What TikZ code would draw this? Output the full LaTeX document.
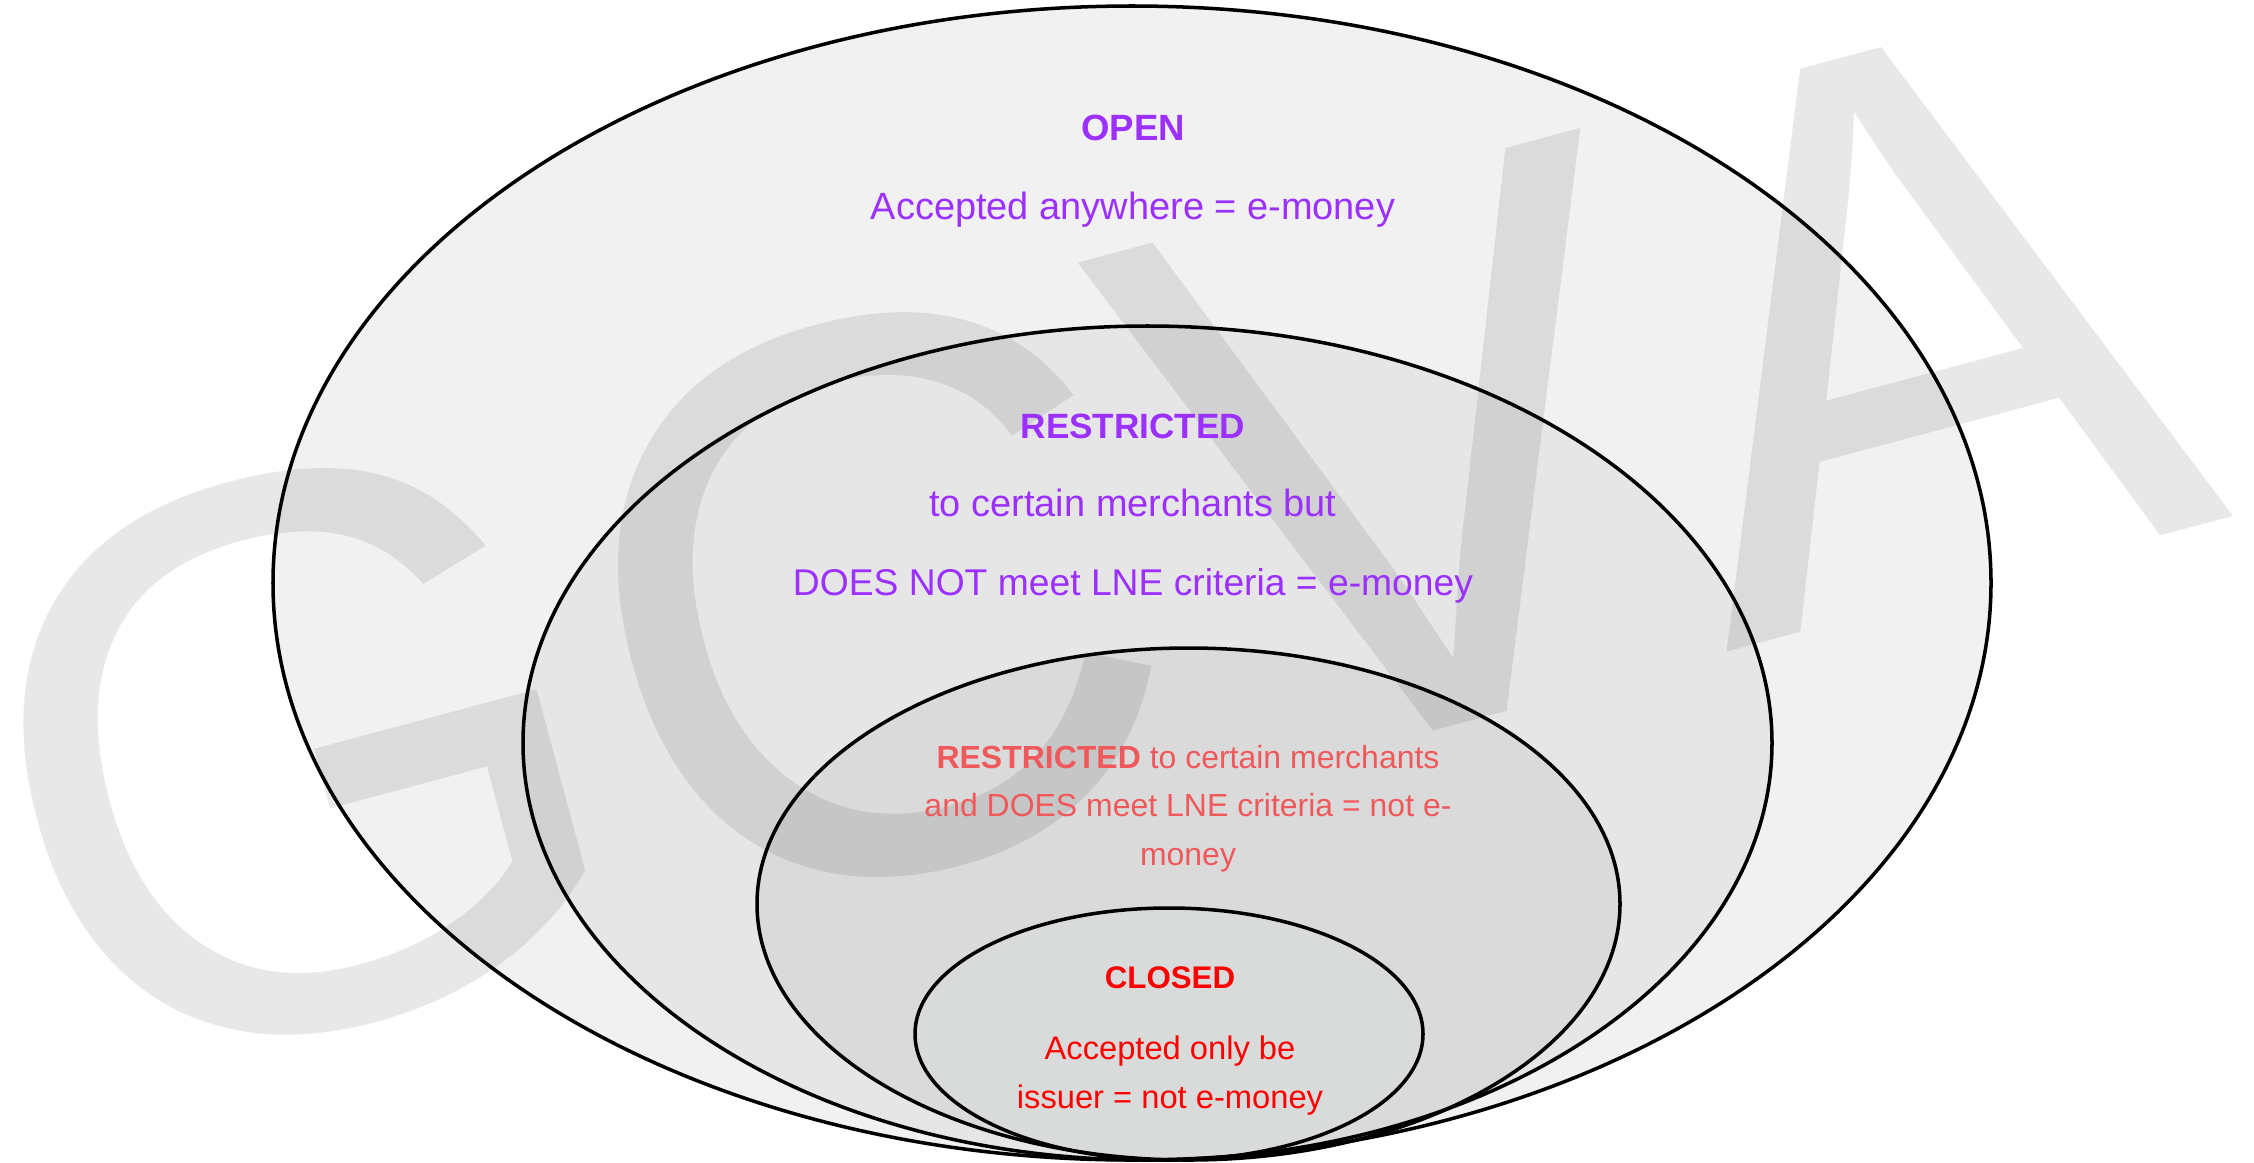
\documentclass[tikz,border=0pt]{standalone}
\usepackage{fontspec}
\setmainfont{Liberation Sans}
\usepackage{tikz}
\usetikzlibrary{positioning}

\begin{document}
\begin{tikzpicture}
    \useasboundingbox (0,0) rectangle (22.54,11.62);  %page = 2254x1162 px, 1cm = 100px
    \definecolor{ring-open}{HTML}{F1F1F1};     %outer fill
    \definecolor{ring-rst}{HTML}{E6E6E6};      %restricted fill
    \definecolor{ring-lne}{HTML}{DADADA};      %LNE fill
    \definecolor{ring-closed}{HTML}{D9DBDB};   %closed fill
    \definecolor{txt-purple}{HTML}{9B30FF};    %purple
    \definecolor{txt-salmon}{HTML}{F0595C};    %light red
    \definecolor{txt-red}{HTML}{FF0000};       %red
    \tikzstyle{rim} = [draw=black, line width=1pt]
    \tikzstyle{head} = [anchor=base, inner sep=0pt, font=\fontsize{10.4}{13}\selectfont\bfseries]
    \tikzstyle{body} = [anchor=base, inner sep=0pt, font=\fontsize{10.8}{13}\selectfont]
    \tikzstyle{small} = [anchor=base, inner sep=0pt, font=\fontsize{9.1}{11}\selectfont]

    \def\xa{11.32};  \def\ya{5.79};  \def\rxa{8.59};  \def\rya{5.77};   %open ring centre, radii
    \def\xb{11.475}; \def\yb{4.19};  \def\rxb{6.245}; \def\ryb{4.17};   %restricted ring
    \def\xc{11.885}; \def\yc{2.58};  \def\rxc{4.315}; \def\ryc{2.56};   %LNE ring
    \def\xd{11.69};  \def\yd{1.28};  \def\rxd{2.54};  \def\ryd{1.26};   %closed ring
    \coordinate(RA) at (\xa,\ya);
    \coordinate(RB) at (\xb,\yb);
    \coordinate(RC) at (\xc,\yc);
    \coordinate(RD) at (\xd,\yd);

    \fill[ring-open]   (RA) ellipse [x radius=\rxa, y radius=\rya];
    \fill[ring-rst]    (RB) ellipse [x radius=\rxb, y radius=\ryb];
    \fill[ring-lne]    (RC) ellipse [x radius=\rxc, y radius=\ryc];
    \fill[ring-closed] (RD) ellipse [x radius=\rxd, y radius=\ryd];

    %watermark
    \node[text=black, text opacity=0.09, inner sep=0pt, rotate=15,
          font=\fontsize{225}{225}\selectfont\addfontfeature{Kerning=Off}] (mark) at (10.82,6.185) {GCVA};

    \draw[rim] (RA) ellipse [x radius=\rxa, y radius=\rya];
    \draw[rim] (RB) ellipse [x radius=\rxb, y radius=\ryb];
    \draw[rim] (RC) ellipse [x radius=\rxc, y radius=\ryc];
    \draw[rim] (RD) ellipse [x radius=\rxd, y radius=\ryd];

    \node[head, txt-purple] (open-head) at (11.33,10.213) {OPEN};
    \node[body, txt-purple] (open-text) at (11.33,9.427) {Accepted anywhere = e-money};

    \node[head, txt-purple, font=\fontsize{10}{13}\selectfont\bfseries] (rst-head) at (11.33,7.237) {RESTRICTED};
    \node[body, txt-purple] (rst-text1) at (11.33,6.46) {to certain merchants but};
    \node[body, txt-purple, font=\fontsize{10.6}{13}\selectfont] (rst-text2) at (11.33,5.67) {DOES NOT meet LNE criteria = e-money};

    \node[small, txt-salmon] (lne-text1) at (11.88,3.937) {\textbf{RESTRICTED} to certain merchants};
    \node[small, txt-salmon] (lne-text2) at (11.88,3.453) {and DOES meet LNE criteria = not e-};
    \node[small, txt-salmon] (lne-text3) at (11.88,2.963) {money};

    \node[head, txt-red, font=\fontsize{8.9}{11}\selectfont\bfseries] (closed-head) at (11.70,1.737) {CLOSED};
    \node[small, txt-red, font=\fontsize{9.3}{11}\selectfont] (closed-text1) at (11.70,1.03) {Accepted only be};
    \node[small, txt-red, font=\fontsize{9.3}{11}\selectfont] (closed-text2) at (11.70,0.537) {issuer = not e-money};
\end{tikzpicture}
\end{document}
